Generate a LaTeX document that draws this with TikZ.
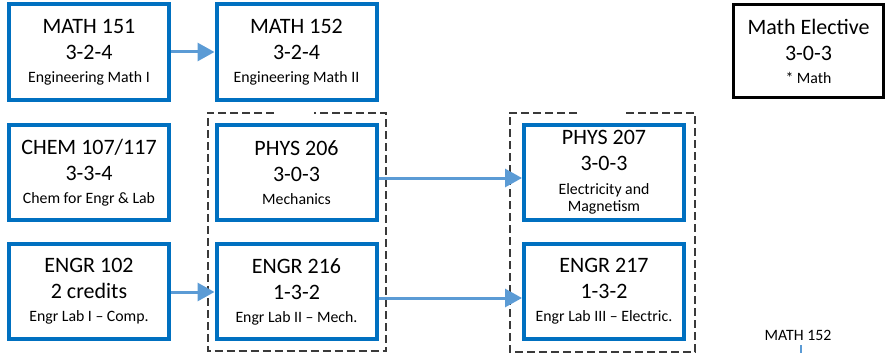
\documentclass[tikz,border=0pt]{standalone}
\usepackage{fontspec}
\setmainfont{Carlito}
\usetikzlibrary{arrows.meta}
\definecolor{boxblue}{HTML}{0070C0}
\definecolor{arrblue}{HTML}{5B9BD5}
\definecolor{dashgray}{HTML}{3A3A3A}
\newcommand\subln{\fontsize{15.8}{17}\selectfont}
\begin{document}
\begin{tikzpicture}[x=1pt,y=-1pt,
  course/.style={draw=boxblue,line width=4pt,minimum width=160pt,minimum height=95pt,
    inner sep=0pt,align=center,font=\fontsize{22}{26}\selectfont},
  elective/.style={draw=black,line width=2.5pt,minimum width=150pt,minimum height=92.5pt,
    inner sep=0pt,align=center,font=\fontsize{22}{26}\selectfont},
  arr/.style={draw=arrblue,line width=3pt,-{Triangle[length=17pt,width=18pt]}},
  group/.style={draw=dashgray,line width=2pt,dash pattern=on 8pt off 4pt},
  note/.style={font=\fontsize{15.8}{17}\selectfont,inner sep=0pt}]
\useasboundingbox (0,0) rectangle (885,353);
% dashed groups
\draw[group] (274,112.5) -- (207.5,112.5) -- (207.5,351) -- (386,351) -- (386,112.5) -- (314,112.5);
\draw[group] (577,112.5) -- (509.5,112.5) -- (509.5,351.5) -- (695,351.5) -- (695,112.5) -- (623,112.5);
% boxes
\node[course] (m151) at (89,52) {MATH 151\\3-2-4\\[-3pt]{\subln Engineering Math I}};
\node[course] (m152) at (296.5,52) {MATH 152\\3-2-4\\[-3pt]{\subln Engineering Math II}};
\node[elective] (mel) at (808.5,51) {Math Elective\\3-0-3\\[-3pt]{\subln * Math}};
\node[course] (chem) at (89,172.5) {CHEM 107/117\\3-3-4\\[-3pt]{\subln Chem for Engr \& Lab}};
\node[course] (p206) at (296.5,172.5) {PHYS 206\\3-0-3\\[-3pt]{\subln Mechanics}};
\node[course] (p207) at (604,172.5) {PHYS 207\\3-0-3\\[-2pt]{\subln Electricity and}\\[-9pt]{\subln Magnetism}};
\node[course] (e102) at (89,291.5) {ENGR 102\\2 credits\\[-3pt]{\subln Engr Lab I -- Comp.}};
\node[course] (e216) at (296.5,291.5) {ENGR 216\\1-3-2\\[-3pt]{\subln Engr Lab II -- Mech.}};
\node[course] (e217) at (604,291.5) {ENGR 217\\1-3-2\\[-3pt]{\subln Engr Lab III -- Electric.}};
% arrows
\draw[arr] (m151.east) -- (m152.west);
\draw[arr] ([yshift=-5.5pt]p206.east) -- ([yshift=-5.5pt]p207.west);
\draw[arr] ([yshift=-0.5pt]e102.east) -- ([yshift=-0.5pt]e216.west);
\draw[arr] ([yshift=-6.5pt]e216.east) -- ([yshift=-6.5pt]e217.west);
% cut-off element bottom right
\node[note,anchor=base] (m152b) at (798,340) {MATH 152};
\coordinate (cut) at (801,353);
\draw[arrblue,line width=2pt] (m152b.south -| cut) ++(0,5) -- (cut);
\end{tikzpicture}
\end{document}
